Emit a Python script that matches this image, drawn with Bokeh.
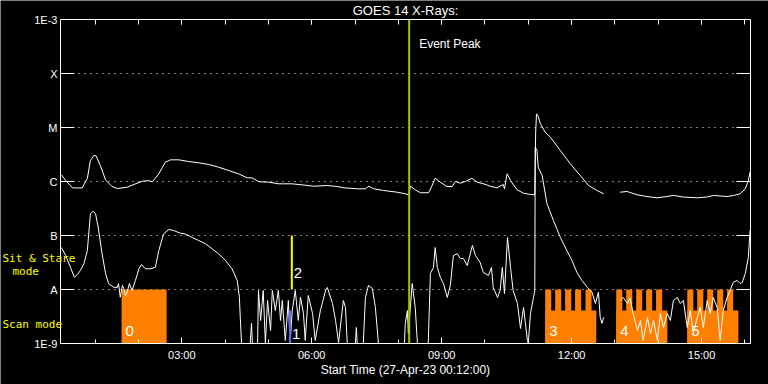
from bokeh.plotting import figure
from bokeh.models import (Range1d, FixedTicker, LinearAxis, LogAxis, Label,
                          CustomJSTickFormatter)
from bokeh.core.properties import value
from bokeh.embed import file_html
from bokeh.resources import INLINE

NaN = float("nan")

# ---------------- data (time in hours UT on 27-Apr-23, flux in W/m^2) ----------------
title_text = "GOES 14 X-Rays:"
x_title = "Start Time (27-Apr-23 00:12:00)"
t_start, t_end = 0.2, 16.13
f_min, f_max = 1e-9, 1e-3

y_tick_vals = [1e-9, 1e-8, 1e-7, 1e-6, 1e-5, 1e-4, 1e-3]
y_tick_labels = ["1E-9", "A", "B", "C", "M", "X", "1E-3"]
grid_vals = [1e-8, 1e-7, 1e-6, 1e-5, 1e-4]
x_tick_vals = [3, 6, 9, 12, 15]
x_tick_labels = ["03:00", "06:00", "09:00", "12:00", "15:00"]
hour_ticks = list(range(1, 17))

# long channel (1-8 A)
long_t = [0.22, 0.32, 0.48, 0.70, 0.82, 0.89, 0.97, 1.02, 1.12, 1.24, 1.39, 1.51, 1.74, 1.93, 2.09,
          2.24, 2.32, 2.47, 2.62, 2.74, 2.93, 3.16, 3.39, 3.62, 3.85, 4.08, 4.31, 4.51, 4.62, 4.78,
          5.01, 5.24, 5.55, 5.85, 6.05, 6.36, 6.59, 6.74, 7.05, 7.24, 7.32, 7.43, 7.66, 7.97, 8.16,
          8.24, 8.28, 8.39, 8.51, 8.70, 8.78, 8.85, 8.97, 9.12, 9.24, 9.32, 9.43, 9.55, 9.70, 9.82,
          9.97, 10.12, 10.28, 10.42, 10.45, 10.51, 10.59, 10.74, 10.89, 11.05, 11.15, 11.17, 11.19,
          11.22, 11.28, 11.39, 11.51, 11.74, 11.97, 12.20, 12.39, 12.59, 12.74, NaN, 13.12, 13.28,
          13.51, 13.74, 13.97, 14.20, 14.35, 14.58, 14.89, 15.12, 15.28, 15.59, 15.74, 15.89, 16.01,
          16.08, 16.12]
long_f = [1.33e-6, 1.04e-6, 7.6e-7, 7.6e-7, 1.14e-6, 2.45e-6, 3.03e-6, 3.0e-6, 1.98e-6, 1.07e-6,
          8.07e-7, 7.41e-7, 7.83e-7, 9.06e-7, 1.01e-6, 1.04e-6, 9.87e-7, 1.39e-6, 2.28e-6, 2.52e-6,
          2.52e-6, 2.34e-6, 2.22e-6, 2.07e-6, 1.84e-6, 1.60e-6, 1.39e-6, 1.17e-6, 1.17e-6, 9.9e-7,
          9.7e-7, 9.06e-7, 9.06e-7, 8.53e-7, 8.18e-7, 8.43e-7, 8.07e-7, 7.64e-7, 7.33e-7, 7.33e-7,
          8.18e-7, 7.33e-7, 6.81e-7, 6.34e-7, 5.92e-7, 5.68e-7, 8.18e-7, 7.02e-7, 6.18e-7, 6.2e-7,
          8.43e-7, 1.15e-6, 9.7e-7, 8.07e-7, 8.07e-7, 1.0e-6, 9.3e-7, 1.0e-6, 1.15e-6, 9.7e-7,
          9.06e-7, 8.18e-7, 7.64e-7, 8.8e-7, 7.33e-7, 1.39e-6, 1.04e-6, 7.02e-7, 6.07e-7, 5.74e-7,
          5.68e-7, 8.18e-6, 1.79e-5, 1.67e-5, 1.17e-5, 8.18e-6, 6.61e-6, 3.75e-6, 2.13e-6, 1.29e-6,
          8.43e-7, 6.81e-7, 5.92e-7, NaN, 6.34e-7, 6.53e-7, 5.68e-7, 5.27e-7, 4.99e-7, 5.27e-7,
          5.51e-7, 5.16e-7, 4.99e-7, 5.16e-7, 5.51e-7, 5.27e-7, 5.51e-7, 5.92e-7, 7.33e-7, 1.04e-6,
          1.49e-6]

# short channel (0.5-4 A)
short_t = [0.22, 0.32, 0.43, 0.52, 0.59, 0.66, 0.74, 0.82, 0.89, 0.95,
           1.01, 1.07, 1.16, 1.24, 1.31, 1.43, 1.51, 1.54, 1.58, 1.63,
           1.66, 1.70, 1.74, 1.79, 1.85, 1.93, 2.01, 2.07, 2.16, 2.28,
           2.39, 2.47, 2.58, 2.70, 2.81, 2.97, 3.08, 3.24, 3.39, 3.55,
           3.70, 3.85, 4.01, 4.16, 4.28, 4.33, 4.35, 4.38,
           4.58, 4.61, 4.63, 4.75, 4.77, 4.82, 4.88, 4.93, 4.98, 5.05,
           5.09, 5.16, 5.23, 5.28, 5.32, 5.39, 5.46, 5.50, 5.55, 5.62,
           5.69, 5.74, 5.81, 5.85, 5.92, 6.02, 6.08, 6.20, 6.32, 6.36,
           6.48, 6.55, 6.62, 6.73, 6.78, 6.82, 7.01, 7.03, 7.05, 7.19,
           7.24, 7.31, 7.40, 7.47, 7.54,
           8.14, 8.16, 8.21, 8.23, 8.32, 8.39, 8.44, 8.69, 8.74, 8.81,
           8.85, 8.90, 8.97, 9.04, 9.13, 9.20, 9.27, 9.36, 9.43, 9.50,
           9.59, 9.71, 9.78, 9.89, 9.96, 10.08, 10.15, 10.19, 10.29, 10.35,
           10.40, 10.45, 10.52, 10.59, 10.65, 10.75, 10.82, 10.89, 10.98, 11.00,
           11.05, 11.12, 11.15,
           11.16, 11.20, 11.23, 11.32, 11.43, 11.58, 11.74, 11.89, 12.01, 12.12,
           12.24, 12.36, 12.47, 12.55, 12.62, 12.66, 12.70, 12.74, NaN,
           13.12, 13.19, 13.29, 13.35, 13.42, 13.52, 13.59, 13.65, 13.75, 13.82,
           13.89, 13.98, 14.05, 14.12, 14.21, 14.28, 14.35, 14.44, 14.51, 14.58,
           14.67, 14.74, 14.81, 14.90, 14.97, 15.04, 15.13, 15.20, 15.27, 15.36,
           15.43, 15.50, 15.59, 15.66, 15.73, 15.82, 15.89, 15.94, 16.01, 16.08,
           16.12]
short_f = [6.0e-8, 4.26e-8, 2.58e-8, 1.68e-8, 1.90e-8, 2.25e-8, 2.99e-8, 5.27e-8, 2.52e-7, 2.82e-7,
           2.52e-7, 1.43e-7, 4.58e-8, 1.98e-8, 1.29e-8, 1.10e-8, 1.09e-8, 1.29e-8, 7.2e-9, 1.19e-8,
           1.04e-8, 7.74e-9, 8.91e-9, 1.29e-8, 9.58e-9, 1.47e-8, 2.42e-8, 2.90e-8, 2.42e-8, 2.42e-8,
           2.58e-8, 5.27e-8, 1.07e-7, 1.29e-7, 1.24e-7, 1.10e-7, 1.07e-7, 9.2e-8, 8.07e-8, 7.02e-8,
           5.67e-8, 4.58e-8, 3.44e-8, 2.42e-8, 1.47e-8, 7.2e-9, 3.07e-9, 1e-9,
           1e-9, 2.35e-9, 1e-9, 1e-9, 9.58e-9, 2.67e-9, 9.58e-9, 1e-9, 6.26e-9, 1.74e-9,
           9.58e-9, 4.08e-9, 9.58e-9, 2.67e-9, 6.26e-9, 1.14e-9, 6.26e-9, 1e-9, 4.08e-9, 9.58e-9,
           2.67e-9, 7.2e-9, 3.59e-9, 1.14e-9, 7.74e-9, 3.59e-9, 1.14e-9, 4.08e-9, 9.58e-9, 1.09e-8,
           5.51e-9, 2.67e-9, 1.04e-9, 6.26e-9, 4.64e-9, 1e-9, 1e-9, 1.98e-9, 1e-9, 1e-9,
           7.11e-9, 1.19e-8, 1.04e-8, 4.64e-9, 1e-9,
           1e-9, 2.35e-9, 4.08e-9, 1.53e-9, 1.29e-8, 4.64e-9, 1e-9, 1e-9, 1.98e-8, 2.56e-8,
           5.99e-8, 2.56e-8, 1.67e-8, 1.29e-8, 7.11e-9, 1.19e-8, 4.26e-8, 4.6e-8, 3.75e-8, 3.75e-8,
           2.78e-8, 6.53e-8, 4.26e-8, 3.16e-8, 2.07e-8, 1.82e-8, 2.56e-8, 1.09e-8, 7.11e-9, 9.58e-9,
           2.56e-8, 8.43e-9, 9.18e-8, 2.56e-8, 9.58e-9, 5.51e-9, 1.9e-9, 4.64e-9, 1.14e-9, 1e-9,
           3.59e-9, 7.11e-9, 9.58e-9,
           4.32e-6, 3.75e-6, 1.82e-6, 1.29e-6, 3.91e-7, 1.90e-7, 9.2e-8, 5.27e-8, 3.44e-8, 2.09e-8,
           1.47e-8, 1.10e-8, 8.91e-9, 5.51e-9, 8.91e-9, 3.07e-9, 2.35e-9, 3.07e-9, NaN,
           6.26e-9, 7.11e-9, 5.51e-9, 6.9e-9, 3.59e-9, 1.74e-9, 2.67e-9, 1.14e-9, 3.03e-9, 1.53e-9,
           2.67e-9, 1.14e-9, 3.59e-9, 1.98e-9, 3.59e-9, 2.67e-9, 6.26e-9, 7.11e-9, 5.51e-9, 6.26e-9,
           1.98e-9, 4.08e-9, 1.53e-9, 3.03e-9, 4.64e-9, 1.98e-9, 6.26e-9, 3.59e-9, 7.11e-9, 4.64e-9,
           1.14e-9, 4.08e-9, 7.11e-9, 9.58e-9, 1.35e-8, 1.47e-8, 1.29e-8, 1.35e-8, 1.98e-8, 3.91e-8,
           1.24e-7]

# scan-mode intervals (orange) and their comb teeth
scan_id = ["0", "3", "4", "5"]
scan_start = [1.61, 11.39, 13.03, 14.67]
scan_end = [2.65, 12.57, 14.21, 15.85]
scan_top = [1e-8, 4.1e-9, 4.1e-9, 4.1e-9]
tooth_start = [11.39, 11.62, 11.85, 12.08, 12.32,
               13.03, 13.26, 13.49, 13.72, 13.95,
               14.67, 14.90, 15.13, 15.36, 15.59]
tooth_end = [11.53, 11.76, 11.99, 12.22, 12.46,
             13.17, 13.40, 13.63, 13.86, 14.09,
             14.81, 15.04, 15.27, 15.50, 15.73]
tooth_top = [1e-8] * len(tooth_start)

# flare markers
marker_id = ["1", "2"]
marker_t = [5.50, 5.54]
marker_lo = [1e-9, 1e-8]
marker_hi = [4.1e-9, 1e-7]
marker_color = ["#6464ff", "#ffff00"]

event_peak_t = 8.25
event_peak_text = "Event Peak"

mode_labels = ["Sit & Stare", "mode", "Scan mode"]

# ---------------- layout (pixels) ----------------
W, H = 768, 384
PAD_L, PAD_R, PAD_T, PAD_B = 60, 18, 19, 41
px_per_hour = (W - PAD_L - PAD_R) / (t_end - t_start)
px_per_decade = (H - PAD_T - PAD_B) / 6.0
x_lo = t_start - PAD_L / px_per_hour
x_hi = t_end + PAD_R / px_per_hour
y_hi = f_max * 10 ** (PAD_T / px_per_decade)
y_lo = f_min / 10 ** (PAD_B / px_per_decade)

FONT = "Liberation Sans"
MONO = "DejaVu Sans Mono"
WHITE = "white"
ORANGE = "#ff8000"

# the frame covers the whole canvas; axes are pinned around the data area
p = figure(width=W, height=H, y_axis_type="log", x_axis_location=None, y_axis_location=None,
           x_range=Range1d(x_lo, x_hi), y_range=Range1d(y_lo, y_hi),
           output_backend="svg", toolbar_location=None,
           min_border=0, min_border_left=0, min_border_right=0, min_border_top=0, min_border_bottom=0,
           background_fill_color="black", border_fill_color="black",
           outline_line_color=None)
p.title.visible = False
p.xgrid.visible = False
p.ygrid.visible = False

xfmt = CustomJSTickFormatter(args=dict(vals=x_tick_vals, labels=x_tick_labels), code="""
let best = '', d = 1e9;
for (let i = 0; i < vals.length; i++) {
  const e = Math.abs(vals[i] - tick);
  if (e < d) { d = e; best = labels[i]; }
}
return d < 1e-6 ? best : '';
""")
yfmt = CustomJSTickFormatter(args=dict(vals=y_tick_vals, labels=y_tick_labels), code="""
let best = '', d = 1e9;
for (let i = 0; i < vals.length; i++) {
  const e = Math.abs(Math.log10(vals[i]) - Math.log10(tick));
  if (e < d) { d = e; best = labels[i]; }
}
return d < 0.01 ? best : '';
""")


def style_axis(ax, tick_in, minor_in):
    ax.axis_line_color = WHITE
    ax.major_tick_line_color = WHITE
    ax.minor_tick_line_color = WHITE
    ax.major_tick_in = tick_in
    ax.major_tick_out = 0
    ax.minor_tick_in = minor_in
    ax.minor_tick_out = 0
    ax.major_label_text_color = WHITE
    ax.major_label_text_font = FONT
    ax.major_label_text_font_size = "11px"


# bottom axis
xa = LinearAxis(ticker=FixedTicker(ticks=x_tick_vals, minor_ticks=hour_ticks), formatter=xfmt,
                fixed_location=f_min, bounds=(t_start, t_end))
style_axis(xa, 6, 4)
xa.major_label_standoff = 5
p.add_layout(xa, "below")

# top axis (ticks only)
ta = LinearAxis(ticker=FixedTicker(ticks=x_tick_vals, minor_ticks=hour_ticks),
                fixed_location=f_max, bounds=(t_start, t_end))
style_axis(ta, 5, 5)
ta.major_label_text_alpha = 0
p.add_layout(ta, "above")

# left axis
ya = LogAxis(ticker=FixedTicker(ticks=y_tick_vals, minor_ticks=[]), formatter=yfmt,
             fixed_location=t_start, bounds=(f_min, f_max))
style_axis(ya, 14, 0)
ya.major_label_standoff = 3
p.add_layout(ya, "left")

# right axis (ticks only)
ra = LogAxis(ticker=FixedTicker(ticks=y_tick_vals, minor_ticks=[]),
             fixed_location=t_end, bounds=(f_min, f_max))
style_axis(ra, 14, 0)
ra.major_label_text_alpha = 0
p.add_layout(ra, "right")

# dotted horizontal grid across the data area
p.segment(x0=[t_start] * len(grid_vals), x1=[t_end] * len(grid_vals), y0=grid_vals, y1=grid_vals,
          line_color=WHITE, line_width=1, line_dash="1 5", level="underlay")

# orange scan blocks
p.quad(left=scan_start, right=scan_end, bottom=[f_min] * len(scan_start), top=scan_top,
       fill_color=ORANGE, line_color=None)
p.quad(left=tooth_start, right=tooth_end, bottom=[f_min] * len(tooth_start), top=tooth_top,
       fill_color=ORANGE, line_color=None)
p.text(x=scan_start, y=[1.7e-9] * len(scan_start), text=scan_id, x_offset=4,
       text_color=WHITE, text_font=value(FONT), text_font_size="15px",
       text_baseline="middle", text_align="left")

# curves
p.line(long_t, long_f, line_color=WHITE, line_width=1)
p.line(short_t, short_f, line_color=WHITE, line_width=1)

# flare markers
p.segment(x0=marker_t, y0=marker_lo, x1=marker_t, y1=marker_hi,
          line_color=marker_color, line_width=2)
marker_label_y = [lo * (hi / lo) ** 0.3 for lo, hi in zip(marker_lo, marker_hi)]
p.text(x=marker_t, y=marker_label_y, text=marker_id, x_offset=2,
       text_color=WHITE, text_font=value(FONT), text_font_size="15px",
       text_baseline="middle", text_align="left")

# event peak line, spanning the data area only
p.segment(x0=[event_peak_t], y0=[f_min], x1=[event_peak_t], y1=[f_max],
          line_color="#99cc00", line_width=2)
p.add_layout(Label(x=event_peak_t, y=H - 43, x_units="data", y_units="screen", x_offset=10,
                   text=event_peak_text, text_color=WHITE, text_font=FONT,
                   text_font_size="12px", text_baseline="middle"))

# title and x-axis title, centred on the data area
t_mid = (t_start + t_end) / 2
p.add_layout(Label(x=t_mid, y=H - 10, x_units="data", y_units="screen", text=title_text,
                   text_color=WHITE, text_font=FONT, text_font_size="13px",
                   text_align="center", text_baseline="middle"))
p.add_layout(Label(x=t_mid, y=H - 369, x_units="data", y_units="screen", text=x_title,
                   text_color=WHITE, text_font=FONT, text_font_size="12px",
                   text_align="center", text_baseline="middle"))

# mode labels (yellow, left margin)
for txt, sx, sy in zip(mode_labels, [2, 12, 2], [H - 258, H - 271, H - 324]):
    p.add_layout(Label(x=sx, y=sy, x_units="screen", y_units="screen", text=txt,
                       text_color="#ffff00", text_font=MONO, text_font_size="11px",
                       text_baseline="middle"))

open("out.html", "w").write(file_html(p, INLINE))
